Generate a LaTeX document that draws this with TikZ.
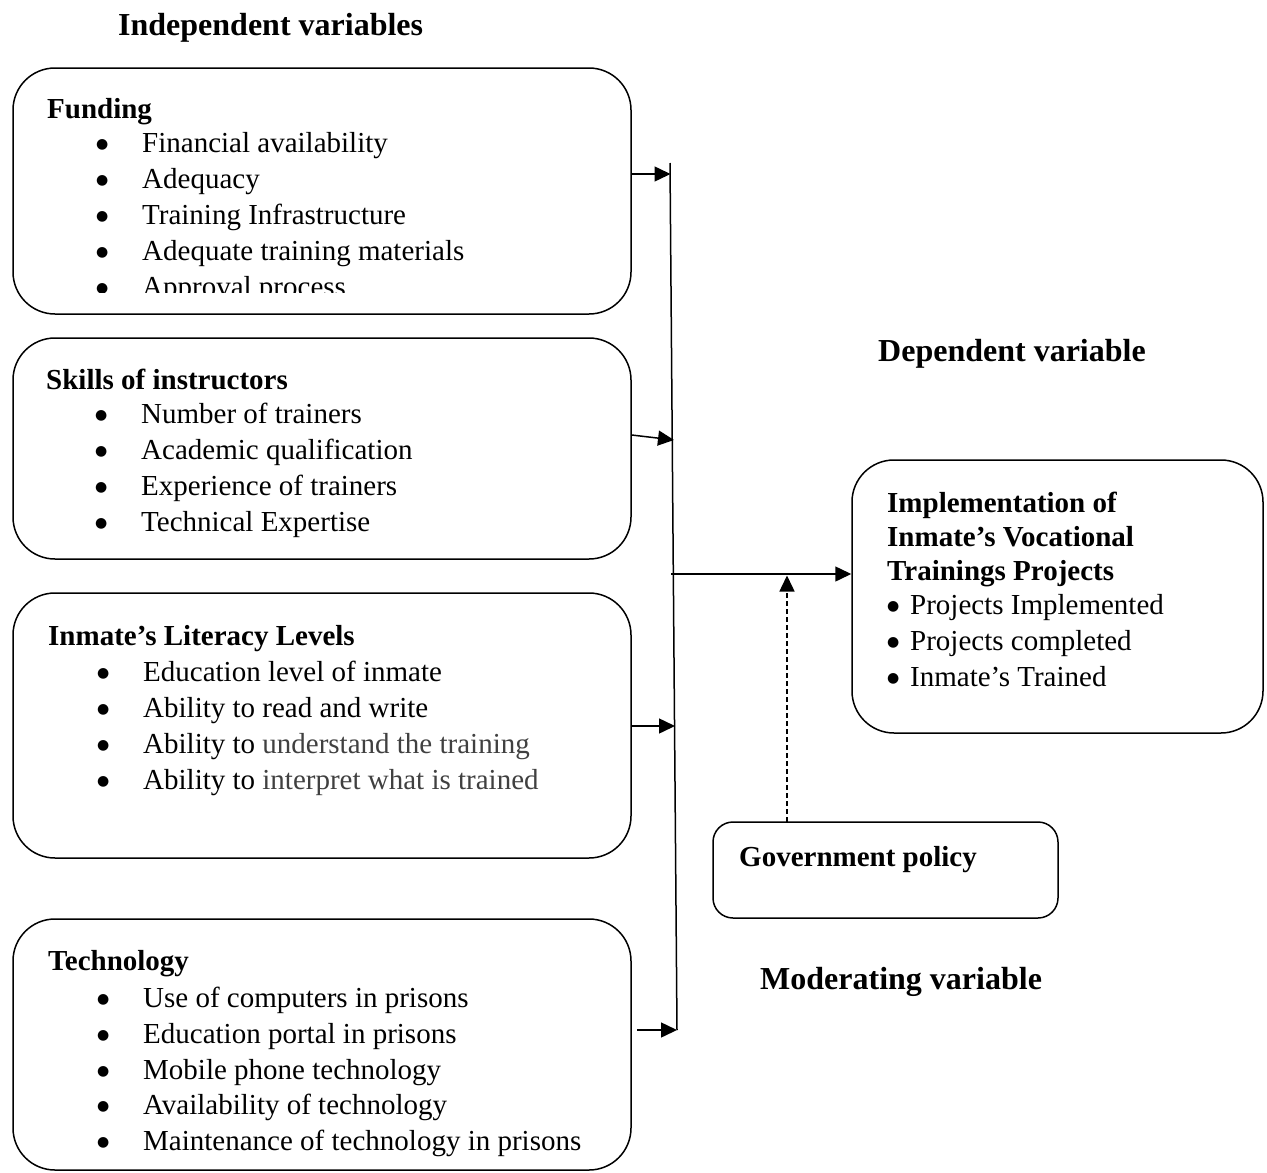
\documentclass[tikz,border=0pt]{standalone}
\usepackage{fontspec}
\setmainfont{Liberation Serif}
\newfontfamily\dejavu{DejaVu Sans}
\usetikzlibrary{arrows.meta}
\newcommand\bigdot{\raisebox{3.5pt}{\dejavu\fontsize{14}{14}\selectfont ●}}
\newcommand\bul{\makebox[46pt][l]{\bigdot}}
\newcommand\rbul{\makebox[23pt][l]{\bigdot}}
\begin{document}
\begin{tikzpicture}[x=1pt,y=-1pt,
  box/.style={draw,line width=1.5pt,rounded corners=42pt,inner sep=0pt},
  sbox/.style={draw,line width=1.5pt,rounded corners=20pt,inner sep=0pt},
  txt/.style={anchor=base west,inner sep=0pt,font=\fontsize{29}{34}\selectfont},
  hd/.style={anchor=base west,inner sep=0pt,font=\fontsize{29}{34}\selectfont\bfseries},
  big/.style={anchor=base west,inner sep=0pt,font=\fontsize{32}{38}\selectfont\bfseries},
  arr/.style={line width=1.5pt,-{Triangle[length=16pt,width=15pt]}},
  ln/.style={line width=1.5pt}]
\useasboundingbox (0,0) rectangle (1267,1173);
% boxes
\node[box,minimum width=618pt,minimum height=246pt] (fund) at (322,191) {};
\node[box,minimum width=618pt,minimum height=221pt] (skill) at (322,448.5) {};
\node[box,minimum width=618pt,minimum height=265pt] (lit) at (322,725.5) {};
\node[box,minimum width=618pt,minimum height=251pt] (tech) at (322,1044.5) {};
\node[box,minimum width=411pt,minimum height=273pt] (dep) at (1057.5,596.5) {};
\node[sbox,minimum width=345pt,minimum height=96pt] (gov) at (885.5,870) {};
% titles
\node[big] (tind) at (118,35) {Independent variables};
\node[big] (tdep) at (878,361) {Dependent variable};
\node[big] (tmod) at (760,989) {Moderating variable};
% funding
\node[hd] (hf) at (47,118) {Funding};
\node[txt] (f1) at (96,152) {\bul Financial availability};
\node[txt] (f2) at (96,188) {\bul Adequacy};
\node[txt] (f3) at (96,224) {\bul Training Infrastructure};
\node[txt] (f4) at (96,260) {\bul Adequate training materials};
\begin{scope}
\clip (0,0) rectangle (640,292);
\node[txt] (f5) at (96,296) {\bul Approval process};
\end{scope}
% skills
\node[hd] (hs) at (46,389) {Skills of instructors};
\node[txt] (s1) at (95,423) {\bul Number of trainers};
\node[txt] (s2) at (95,459) {\bul Academic qualification};
\node[txt] (s3) at (95,495) {\bul Experience of trainers};
\node[txt] (s4) at (95,531) {\bul Technical Expertise};
% literacy
\node[hd] (hl) at (48,645) {Inmate’s Literacy Levels};
\node[txt] (l1) at (97,681) {\bul Education level of inmate};
\node[txt] (l2) at (97,717) {\bul Ability to read and write};
\node[txt] (l3) at (97,753) {\bul Ability to \textcolor{black!75}{understand the training}};
\node[txt] (l4) at (97,789) {\bul Ability to \textcolor{black!75}{interpret what is trained}};
% technology
\node[hd] (ht) at (48,970) {Technology};
\node[txt] (t1) at (97,1007) {\bul Use of computers in prisons};
\node[txt] (t2) at (97,1043) {\bul Education portal in prisons};
\node[txt] (t3) at (97,1079) {\bul Mobile phone technology};
\node[txt] (t4) at (97,1114) {\bul Availability of technology};
\node[txt] (t5) at (97,1150) {\bul Maintenance of technology in prisons};
% dependent
\node[hd] (d1) at (887,512) {Implementation of};
\node[hd] (d2) at (887,546) {Inmate’s Vocational};
\node[hd] (d3) at (887,580) {Trainings Projects};
\node[txt] (d4) at (887,614) {\rbul Projects Implemented};
\node[txt] (d5) at (887,650) {\rbul Projects completed};
\node[txt] (d6) at (887,686) {\rbul Inmate’s Trained};
% moderating
\node[hd] (g1) at (739,866) {Government policy};
% connector lines
\coordinate (vtop) at (670,163);
\coordinate (vbot) at (677,1030);
\draw[ln] (vtop) -- (vbot);
\coordinate (af) at (670.5,174);
\coordinate (as) at (674,440);
\coordinate (al) at (675,726);
\coordinate (mstart) at (671,574);
\draw[arr] (fund.east |- af) -- (af);
\draw[arr] (skill.east |- 0,435) -- (as);
\draw[arr] (lit.east |- al) -- (al);
\draw[arr] (637,1030) -- (vbot);
\draw[arr] (mstart) -- (dep.west |- mstart);
\coordinate (gtop) at (787,822);
\draw[line width=1.5pt,dashed,dash pattern=on 5pt off 3pt,-{Triangle[length=16pt,width=15pt]}] (gtop) -- (787,575.5);
\end{tikzpicture}
\end{document}
